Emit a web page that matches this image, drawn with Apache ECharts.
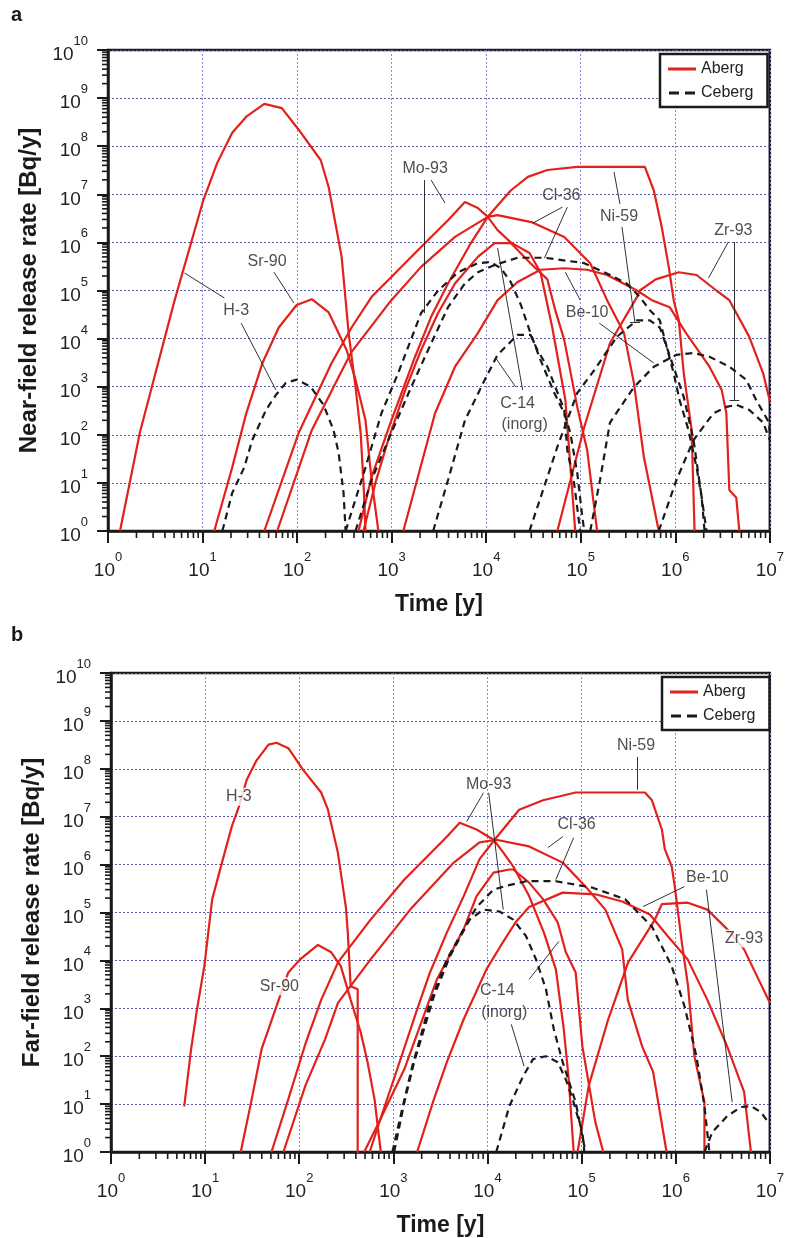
<!DOCTYPE html>
<html>
<head>
<meta charset="utf-8">
<script src="https://cdn.jsdelivr.net/npm/echarts@6/dist/echarts.min.js"></script>
<style>
  html, body { margin: 0; padding: 0; background: #ffffff; }
  #chart { width: 787px; height: 1238px; }
</style>
</head>
<body>
<div id="chart"></div>
<script>
// Release rates [Bq/y] versus time [y]; each curve is a list of [time, rate] pairs.

// ---- (a) near-field, Aberg (solid red) ----
const nearH3Aberg   = [[1.34,1],[2.17,110],[5.07,6.3e4],[10.2,7.6e6],[14.3,4.5e7],[20.6,1.9e8],[29,4.1e8],[45,7.6e8],[69,6.2e8],[104,2.2e8],[178,5.1e7],[216,1.4e7],[296,5e5],[351,1.3e4],[415,980],[470,110],[504,10],[529,1]];
const nearSr90Aberg = [[13.3,1],[20.6,21],[29,280],[43,3100],[64,1.7e4],[99,5e4],[143,6.6e4],[216,3.5e4],[334,5800],[415,1400],[529,200],[612,12],[724,1]];
const nearMo93Aberg = [[45,1],[104,110],[232,3100],[377,1.7e4],[612,7.3e4],[993,1.9e5],[2050,8e5],[3950,2.9e6],[5960,6.9e6],[8160,5.2e6],[10400,3.4e6],[13200,1.8e6],[18200,1e6],[28700,6e5],[37500,2.4e5],[50000,1.7e4],[68800,530],[87500,1]];
const nearCl36Aberg = [[61.6,1],[143,125],[275,1600],[377,5300],[993,6.3e4],[2050,3.1e5],[4680,1.3e6],[10400,3.4e6],[13200,3.7e6],[30900,2.6e6],[67000,1.3e6],[126000,3.7e5],[190000,6.3e4],[287000,1.3e4],[365000,1200],[465000,35],[669000,1]];
const nearNi59Aberg = [[447,1],[612,13],[993,200],[1770,4200],[2610,2.8e4],[3950,1.4e5],[6890,9.7e5],[10400,3.4e6],[18200,1.2e7],[27600,2.3e7],[44400,3.2e7],[91900,3.7e7],[477000,3.7e7],[593000,1.2e7],[719000,2.1e6],[853000,3.1e5],[962000,6.3e4],[1.09e6,2.4e4],[1.23e6,1900],[1.49e6,125],[1.6e6,1]];
const nearC14Aberg  = [[504,1],[673,10],[920,78],[1390,850],[2050,5800],[3100,3.4e4],[4680,1.4e5],[8160,5e5],[12300,9.7e5],[18200,9.7e5],[29400,3.7e5],[44400,1.7e5],[53800,3.9e4],[67000,9300],[91900,380],[117000,48],[149000,1]];
const nearBe10Aberg = [[1330,1],[2880,280],[4680,2600],[8160,1.3e4],[13200,6.3e4],[21500,1.5e5],[37500,2.7e5],[67000,2.9e5],[117000,2.7e5],[190000,2.1e5],[393000,1e5],[565000,6.3e4],[873000,4.5e4],[1.3e6,1.3e4],[2.3e6,2600],[3.1e6,850],[3.47e6,280],[3.73e6,7.1],[4.42e6,4.9],[4.76e6,1]];
const nearZr93Aberg = [[56600,1],[109000,145],[204000,8100],[393000,7.3e4],[422000,1e5],[620000,1.7e5],[1.09e6,2.4e5],[1.68e6,2.1e5],[2.72e6,1e5],[3.73e6,6.3e4],[6.05e6,1.1e4],[8.5e6,1900],[1e7,500]];

// ---- (a) near-field, Ceberg (dashed black) ----
const nearH3Ceberg   = [[16.2,1],[20.6,6.2],[27.6,21],[33.6,78],[47,330],[59.6,670],[76,1200],[99,1400],[139,1000],[190,420],[243,125],[275,42],[310,6.2],[326,1]];
const nearMo93Ceberg = [[326,1],[529,21],[780,280],[1170,1900],[2050,3.4e4],[3100,1e5],[5050,2.4e5],[8160,3.7e5],[11100,3.9e5],[14300,2.9e5],[18200,1.5e5],[23300,5e4],[29400,1.3e4],[37500,3600],[52600,740],[67000,280],[77600,110],[91900,16],[104000,1.95],[109000,1]];
const nearCl36Ceberg = [[415,1],[612,11.5],[993,110],[1610,980],[2430,5800],[3950,4.5e4],[5960,1.4e5],[8160,2.4e5],[12300,3.4e5],[21500,4.8e5],[41300,4.8e5],[109000,3.7e5],[204000,2.1e5],[307000,1.4e5],[422000,7.3e4],[538000,3.9e4],[686000,2.4e4],[812000,6700],[962000,1900],[1.11e6,530],[1.38e6,125],[1.68e6,21],[1.9e6,5.1],[2.14e6,1]];
const nearC14Ceberg  = [[2750,1],[3950,11.5],[5960,200],[9670,1400],[13200,4600],[21500,1.2e4],[29400,1.2e4],[34800,5800],[44400,2600],[67000,330],[72100,48],[85000,10],[98800,1]];
const nearNi59Ceberg = [[28700,1],[56600,56],[91900,740],[139000,2200],[242000,1.1e4],[393000,2.4e4],[538000,2.4e4],[686000,1.7e4],[812000,6700],[1.23e6,610],[1.56e6,78],[1.9e6,5.1],[2.04e6,1]];
const nearBe10Ceberg = [[126000,1],[160000,11.5],[204000,180],[365000,980],[593000,2600],[1.03e6,4600],[1.56e6,5000],[2.3e6,4200],[3.73e6,2600],[5.63e6,1400],[7.17e6,530],[9.8e6,180],[1e7,110]];
const nearZr93Ceberg = [[669000,1],[1.03e6,11.5],[1.56e6,78],[2.53e6,280],[3.47e6,380],[4.42e6,420],[6.05e6,330],[8.5e6,180],[1e7,78]];

// ---- (b) far-field, Aberg (solid red) ----
const farH3Aberg   = [[6,9],[7.1,140],[8.2,950],[9.8,7500],[11.9,1.9e5],[15.1,1.1e6],[19.2,6.2e6],[22.8,1.6e7],[27.7,5.9e7],[35.2,1.5e8],[47.2,3.2e8],[57.3,3.5e8],[76.6,2.7e8],[110,9.5e7],[171,3.2e7],[202,1.4e7],[257,1.8e6],[313,1.3e5],[328,3.8e4],[352,2900],[418,2500],[418,0.5]];
const farSr90Aberg = [[23.9,1],[31.3,12.7],[39.8,140],[55.8,950],[76.6,5600],[102,1.05e4],[158,2.1e4],[217,1.5e4],[277,7500],[352,1500],[450,316],[532,75],[631,12.7],[735,1]];
const farMo93Aberg = [[50.7,1],[76.6,12.7],[116,178],[171,1500],[258,9100],[573,7.1e4],[1310,4.9e5],[3700,3.8e6],[5070,7.5e6],[7660,5.4e6],[11600,3.3e6],[14700,1.8e6],[18800,9.1e5],[27700,2.2e5],[39800,3.8e4],[53300,6500],[64700,365],[73000,33],[82400,1]];
const farCl36Aberg = [[67.9,1],[116,24],[188,225],[258,1300],[573,1.05e4],[1510,1.15e5],[4390,1.1e6],[8240,2.9e6],[12400,3.3e6],[27700,2.4e6],[63000,1.1e6],[110000,3.5e5],[179000,1.15e5],[270000,1.7e4],[310000,1500],[440000,160],[575000,47],[800000,1]];
const farNi59Aberg = [[490,1],[730,4.9],[1100,54],[1790,950],[2450,5600],[3700,3.8e4],[5590,2.2e5],[8240,1.3e6],[11900,3.3e6],[21700,1.4e7],[38900,2.2e7],[86500,3.2e7],[472000,3.2e7],[559000,2.2e7],[713000,5.4e6],[766000,2.1e6],[908000,9.1e5],[977000,3.5e5],[1.16e6,2.4e4],[1.35e6,3000],[1.58e6,100],[2.02e6,11],[2.02e6,0.5]];
const farC14Aberg  = [[560,1],[730,4.9],[1310,54],[2900,4000],[5590,4.5e4],[7660,2.2e5],[11600,6.8e5],[17100,7.9e5],[18800,7.9e5],[27700,4.2e5],[38900,1.9e5],[55800,6.2e4],[67900,1.5e4],[86500,5600],[102000,160],[140000,4.2],[170000,1]];
const farBe10Aberg = [[1790,1],[2700,12.7],[3700,75],[5590,590],[9750,6500],[14000,2.1e4],[20200,6.5e4],[27700,1.3e5],[63000,2.6e5],[140000,2.4e5],[270000,1.7e5],[370000,1.27e5],[532000,9.1e4],[824000,3.2e4],[1.34e6,1.05e4],[2.17e6,1500],[3.52e6,160],[5.33e6,18],[6.3e6,1]];
const farZr93Aberg = [[90700,1],[119000,24],[192000,590],[312000,9100],[601000,7.1e4],[713000,1.5e5],[1.34e6,1.6e5],[2.17e6,1.15e5],[3.52e6,4.5e4],[5.33e6,1.7e4],[7.3e6,4700],[1e7,1300]];

// ---- (b) far-field, Ceberg (dashed black) ----
const farMo93Ceberg = [[1020,1],[1310,11],[1660,75],[2700,1800],[3980,1.2e4],[6460,7.1e4],[9080,1.15e5],[13400,1.05e5],[18800,7.1e4],[25700,3.2e4],[32800,1.05e4],[41800,2500],[50700,365],[63000,75],[86500,11],[110000,1]];
const farCl36Ceberg = [[977,1],[1240,7.9],[1590,62],[2450,1300],[3700,1.05e4],[5590,4.5e4],[7660,1.3e5],[11600,3e5],[15800,3.6e5],[25700,4.5e5],[53300,4.5e5],[131000,3.3e5],[290000,1.9e5],[398000,1e5],[559000,5.1e4],[713000,1.95e4],[908000,7500],[1.24e6,1100],[1.66e6,100],[2.02e6,9.1],[2.28e6,1]];
const farC14Ceberg  = [[12400,1],[17100,9.1],[23900,38],[30500,87],[41800,100],[55800,75],[67900,33],[80400,12.7],[90700,5.6],[102000,2.6],[107000,1]];
const farBe10Ceberg = [[2.02e6,1],[2.45e6,2.6],[3.52e6,5.6],[4.95e6,8.7],[6.3e6,9.1],[8.03e6,6.8],[1e7,3.8]];

// ---- nuclide labels [text, time, rate] and leader lines [[t1,r1],[t2,r2]] ----
const nearLabels = [
  ['H-3', 22.7, 3.75e4], ['Sr-90', 48.1, 3.9e5], ['Mo-93', 2260, 3.36e7],
  ['Cl-36', 62400, 9.2e6], ['Ni-59', 254000, 3.5e6], ['Zr-93', 4.11e6, 1.73e6],
  ['Be-10', 117000, 3.4e4], ['C-14', 21500, 437], ['(inorg)', 25500, 160]
];
const nearLeaders = [
  [[6.45,2.31e5],[17,7e4]], [[25.6,2.1e4],[59.8,854]], [[57,2.4e5],[92.5,5.5e4]],
  [[2610,1.98e7],[3670,6.6e6]], [[2210,1.98e7],[2210,3.4e4]],
  [[63900,5.4e6],[30900,2.5e6]], [[72100,5.4e6],[41300,4.7e5]],
  [[225000,2.9e7],[260000,6.3e6]], [[273000,2.1e6],[374000,2.2e4]], [[331000,2.2e4],[423000,2.2e4]],
  [[3.64e6,1.02e6],[2.25e6,1.82e5]], [[4.22e6,1.02e6],[4.22e6,529]], [[3.75e6,529],[4.75e6,529]],
  [[98800,6.3e4],[68700,2.4e5]], [[157000,2.1e4],[593000,3100]],
  [[24300,854],[13200,7.7e5]], [[20500,986],[12600,3950]]
];
const farLabels = [
  ['H-3', 22.8, 2.61e7], ['Sr-90', 61.6, 2870], ['Mo-93', 10300, 4.6e7],
  ['Ni-59', 379000, 3.0e8], ['Cl-36', 88600, 6.8e6], ['Be-10', 2.17e6, 5.36e5],
  ['Zr-93', 5.32e6, 2.87e4], ['C-14', 12700, 2370], ['(inorg)', 15100, 826]
];
const farBoxedLabels = ['H-3', 'Sr-90', 'Zr-93'];
const farLeaders = [
  [[9080,3.16e7],[6010,7.9e6]], [[10300,3.16e7],[14700,1.16e5]],
  [[388000,1.78e8],[388000,3.65e7]],
  [[63100,3.83e6],[43900,2.26e6]], [[82400,3.65e6],[53300,4.87e5]],
  [[1.24e6,3.48e5],[450000,1.33e5]], [[2.12e6,3.01e5],[3.98e6,11]],
  [[27700,4020],[57300,2.49e4]], [[17900,464],[24500,61.9]]
];

const nearAberg  = [nearH3Aberg, nearSr90Aberg, nearMo93Aberg, nearCl36Aberg, nearNi59Aberg, nearC14Aberg, nearBe10Aberg, nearZr93Aberg];
const nearCeberg = [nearH3Ceberg, nearMo93Ceberg, nearCl36Ceberg, nearC14Ceberg, nearNi59Ceberg, nearBe10Ceberg, nearZr93Ceberg];
const farAberg   = [farH3Aberg, farSr90Aberg, farMo93Aberg, farCl36Aberg, farNi59Aberg, farC14Aberg, farBe10Aberg, farZr93Aberg];
const farCeberg  = [farMo93Ceberg, farCl36Ceberg, farC14Ceberg, farBe10Ceberg];

// ---- styling ----
const FONT = '"Liberation Sans", Arial, Helvetica, sans-serif';
const RED = '#e3211b';
const INK = '#1a1a1a';
const TXT = '#222222';
// rate axis spans 10^0 .. 10^10; the upper bound sits a hair under 10^10 so the
// log scale keeps one tick per decade
const RATE_MIN = 1, RATE_MAX = 9.9999e9;

function solidLine(data, idx) {
  return { type: 'line', name: 'Aberg', xAxisIndex: idx, yAxisIndex: idx, data: data,
    symbol: 'none', smooth: false, silent: true, z: 3,
    lineStyle: { color: RED, width: 2.2 }, itemStyle: { color: RED } };
}
function dashedLine(data, idx) {
  return { type: 'line', name: 'Ceberg', xAxisIndex: idx, yAxisIndex: idx, data: data,
    symbol: 'none', smooth: false, silent: true, z: 4,
    lineStyle: { color: INK, width: 2.2, type: [7, 5] }, itemStyle: { color: INK } };
}

// minor tick positions 2..9 within each decade
function decadeSteps(firstExp, lastExp) {
  const out = [];
  for (let d = firstExp; d < lastExp; d++) for (let k = 2; k <= 9; k++) out.push(k * Math.pow(10, d));
  return out;
}
function minorTickSeries(idx, axis) {
  const data = axis === 'y' ? decadeSteps(0, 10).map(v => [1, v]) : decadeSteps(0, 7).map(t => [t, 1]);
  return { type: 'custom', xAxisIndex: idx, yAxisIndex: idx, data: data, silent: true, clip: false, z: 6,
    renderItem: function (params, api) {
      const p = api.coord([api.value(0), api.value(1)]);
      const shape = axis === 'y'
        ? { x1: p[0] - 6, y1: p[1], x2: p[0], y2: p[1] }
        : { x1: p[0], y1: p[1], x2: p[0], y2: p[1] + 7 };
      return { type: 'line', shape: shape, style: { stroke: INK, lineWidth: 1.6 } };
    } };
}

function labelSeries(idx, labels, leaders, boxed) {
  return { type: 'scatter', xAxisIndex: idx, yAxisIndex: idx, symbolSize: 1, silent: true, z: 8,
    itemStyle: { color: 'rgba(0,0,0,0)' },
    data: labels.map(l => {
      const item = { name: l[0], value: [l[1], l[2]] };
      if (boxed.indexOf(l[0]) >= 0) item.label = { backgroundColor: '#ffffff', padding: [1, 2] };
      return item;
    }),
    label: { show: true, position: 'inside', formatter: p => p.name, fontFamily: FONT, fontSize: 16, color: TXT },
    markLine: { silent: true, symbol: ['none', 'none'], animation: false, label: { show: false },
      lineStyle: { color: INK, width: 0.9, type: 'solid' },
      data: leaders.map(s => [{ coord: s[0] }, { coord: s[1] }]) } };
}

const tickRich = {
  b: { fontFamily: FONT, fontSize: 19, color: TXT, lineHeight: 40, verticalAlign: 'middle' },
  s: { fontFamily: FONT, fontSize: 13, color: TXT, lineHeight: 16, verticalAlign: 'top' }
};
function powLabel(v) { return '{b|10}{s|' + Math.round(Math.log10(v)) + '}'; }

function xAxis(idx) {
  return { type: 'log', gridIndex: idx, min: 1, max: 1e7, logBase: 10, splitNumber: 7,
    name: 'Time [y]', nameLocation: 'middle', nameGap: 62,
    nameTextStyle: { fontFamily: FONT, fontSize: 23, fontWeight: 'bold', color: INK },
    axisLine: { show: true, lineStyle: { color: INK, width: 2.5 } },
    axisTick: { show: true, inside: false, length: 12, lineStyle: { color: INK, width: 2 } },
    axisLabel: { formatter: powLabel, rich: tickRich, margin: 20 },
    splitLine: { show: true, lineStyle: { color: '#8c8cd0', width: 1, type: [2, 2] } } };
}
function yAxis(idx, title) {
  return { type: 'log', gridIndex: idx, min: RATE_MIN, max: RATE_MAX, logBase: 10, splitNumber: 10,
    name: title, nameLocation: 'middle', nameGap: 66,
    nameTextStyle: { fontFamily: FONT, fontSize: 24, fontWeight: 'bold', color: INK },
    axisLine: { show: true, lineStyle: { color: INK, width: 2.5 } },
    axisTick: { show: true, inside: false, length: 11, lineStyle: { color: INK, width: 2 } },
    axisLabel: { formatter: powLabel, rich: tickRich, margin: 20, padding: [10, 0, 0, 0] },
    splitLine: { show: true, lineStyle: { color: '#5555aa', width: 1, type: [2, 2] } } };
}
function legendBox(left, top) {
  return { left: left, top: top, orient: 'vertical',
    data: [
      { name: 'Aberg', icon: 'rect' },
      { name: 'Ceberg', icon: 'path://M0,0h10v3h-10z M16,0h10v3h-10z' }
    ],
    backgroundColor: '#ffffff', borderColor: INK, borderWidth: 2.5, borderRadius: 0,
    padding: [7, 14, 6, 8], itemGap: 8, itemWidth: 28, itemHeight: 3, selectedMode: false,
    textStyle: { fontFamily: FONT, fontSize: 16, color: TXT } };
}

const series = [];
nearAberg.forEach(d => series.push(solidLine(d, 0)));
nearCeberg.forEach(d => series.push(dashedLine(d, 0)));
farAberg.forEach(d => series.push(solidLine(d, 1)));
farCeberg.forEach(d => series.push(dashedLine(d, 1)));
series.push(minorTickSeries(0, 'y'), minorTickSeries(0, 'x'), minorTickSeries(1, 'y'), minorTickSeries(1, 'x'));
series.push(labelSeries(0, nearLabels, nearLeaders, []));
series.push(labelSeries(1, farLabels, farLeaders, farBoxedLabels));

const chart = echarts.init(document.getElementById('chart'), null, { renderer: 'canvas' });
chart.setOption({
  animation: false,
  backgroundColor: '#ffffff',
  grid: [
    { left: 108, top: 50, width: 666, height: 481, show: true, borderColor: INK, borderWidth: 2.5 },
    { left: 111, top: 673, width: 665, height: 480, show: true, borderColor: INK, borderWidth: 2.5 }
  ],
  xAxis: [xAxis(0), xAxis(1)],
  yAxis: [yAxis(0, 'Near-field release rate [Bq/y]'), yAxis(1, 'Far-field release rate [Bq/y]')],
  legend: [legendBox(660, 54), legendBox(662, 677)],
  graphic: [
    { type: 'text', left: 11, top: 5, style: { text: 'a', font: 'bold 20px ' + FONT, fill: INK } },
    { type: 'text', left: 11, top: 625, style: { text: 'b', font: 'bold 20px ' + FONT, fill: INK } }
  ],
  series: series
});
</script>
</body>
</html>
